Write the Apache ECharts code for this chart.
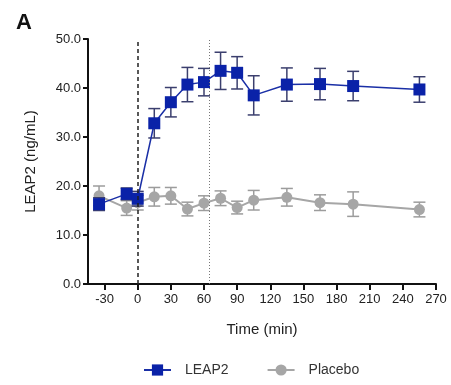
<!DOCTYPE html>
<html>
<head>
<meta charset="utf-8">
<script src="https://cdn.jsdelivr.net/npm/echarts@6/dist/echarts.min.js"></script>
<style>
  html, body { margin: 0; padding: 0; background: #fff; }
  #chart { width: 451px; height: 385px; }
</style>
</head>
<body>
<div id="chart"></div>
<script>
// time points (min)
const times = [-35, -10, 0, 15, 30, 45, 60, 75, 90, 105, 135, 165, 195, 255];
const leap2Mean = [16.3, 18.4, 17.4, 32.8, 37.1, 40.7, 41.2, 43.5, 43.1, 38.5, 40.7, 40.8, 40.4, 39.7];
const leap2Sem = [1.3, 1.2, 1.5, 3.0, 3.0, 3.5, 2.8, 3.8, 3.3, 4.0, 3.4, 3.2, 3.0, 2.6];
const placeboMean = [18.0, 15.5, 16.6, 17.8, 18.0, 15.3, 16.5, 17.5, 15.6, 17.1, 17.7, 16.6, 16.3, 15.2];
const placeboSem = [2.0, 1.5, 1.5, 1.9, 1.7, 1.4, 1.5, 1.5, 1.3, 2.0, 1.8, 1.6, 2.5, 1.5];
const xTicks = [-30, 0, 30, 60, 90, 120, 150, 180, 210, 240, 270];
const refLines = [0, 65];

const font = '"Liberation Sans", Arial, sans-serif';

const chart = echarts.init(document.getElementById('chart'));

function errorBars(mean, sem) {
    return times.map((t, i) => [t, mean[i] - sem[i], mean[i] + sem[i]]);
}

function renderBar(color) {
    return function (params, api) {
        const x = api.value(0);
        const lo = api.coord([x, api.value(1)]);
        const hi = api.coord([x, api.value(2)]);
        const w = 6;
        const style = { stroke: color, lineWidth: 1.5 };
        return {
            type: 'group',
            children: [
                { type: 'line', shape: { x1: lo[0], y1: lo[1], x2: hi[0], y2: hi[1] }, style },
                { type: 'line', shape: { x1: lo[0] - w, y1: lo[1], x2: lo[0] + w, y2: lo[1] }, style },
                { type: 'line', shape: { x1: hi[0] - w, y1: hi[1], x2: hi[0] + w, y2: hi[1] }, style },
            ],
        };
    };
}

chart.setOption({
    animation: false,
    title: {
        text: 'A',
        left: 11,
        top: 7,
        textStyle: { fontFamily: font, fontSize: 22, fontWeight: 'bold', color: '#111' },
    },
    legend: {
        bottom: 3,
        left: 138,
        itemWidth: 27,
        itemHeight: 14,
        itemGap: 38,
        textStyle: { fontFamily: font, fontSize: 14, color: '#333', padding: [0, 0, 0, 9] },
        data: ['LEAP2', 'Placebo'],
    },
    grid: { left: 88, right: 15, top: 39, bottom: 101 },
    xAxis: {
        type: 'value',
        min: -45,
        max: 270,
        name: 'Time (min)',
        nameLocation: 'middle',
        nameGap: 38,
        nameTextStyle: { fontFamily: font, fontSize: 15, color: '#222' },
        axisLine: { onZero: false, lineStyle: { color: '#111', width: 2 } },
        axisTick: { customValues: xTicks, length: 6, lineStyle: { color: '#111', width: 2 } },
        axisLabel: { customValues: xTicks, fontFamily: font, fontSize: 13, color: '#222', margin: 9 },
        splitLine: { show: false },
    },
    yAxis: {
        type: 'value',
        min: 0,
        max: 50,
        interval: 10,
        name: 'LEAP2 (ng/mL)',
        nameLocation: 'middle',
        nameGap: 50,
        nameTextStyle: { fontFamily: font, fontSize: 15, color: '#222' },
        axisLine: { show: true, onZero: false, lineStyle: { color: '#111', width: 2 } },
        axisTick: { show: true, length: 5, lineStyle: { color: '#111', width: 2 } },
        axisLabel: {
            fontFamily: font,
            fontSize: 13,
            color: '#222',
            margin: 7,
            formatter: (v) => v.toFixed(1),
        },
        splitLine: { show: false },
    },
    series: [
        {
            name: 'Placebo',
            type: 'line',
            data: times.map((t, i) => [t, placeboMean[i]]),
            symbol: 'circle',
            symbolSize: 11,
            lineStyle: { color: '#a6a6a6', width: 2 },
            itemStyle: { color: '#a6a6a6' },
            z: 2,
            markLine: {
                silent: true,
                symbol: 'none',
                label: { show: false },
                data: [
                    { xAxis: refLines[0], lineStyle: { color: '#222', type: [4, 3], width: 1.5 } },
                    { xAxis: refLines[1], lineStyle: { color: '#777', type: [1, 2], width: 1 } },
                ],
            },
        },
        {
            name: 'Placebo-err',
            type: 'custom',
            data: errorBars(placeboMean, placeboSem),
            renderItem: renderBar('#9c9c9c'),
            z: 1,
        },
        {
            name: 'LEAP2',
            type: 'line',
            data: times.map((t, i) => [t, leap2Mean[i]]),
            symbol: 'rect',
            symbolSize: 12,
            lineStyle: { color: '#1a2fa6', width: 1.5 },
            itemStyle: { color: '#0a22a8' },
            z: 4,
        },
        {
            name: 'LEAP2-err',
            type: 'custom',
            data: errorBars(leap2Mean, leap2Sem),
            renderItem: renderBar('#3b3f6e'),
            z: 3,
        },
    ],
});
</script>
</body>
</html>
